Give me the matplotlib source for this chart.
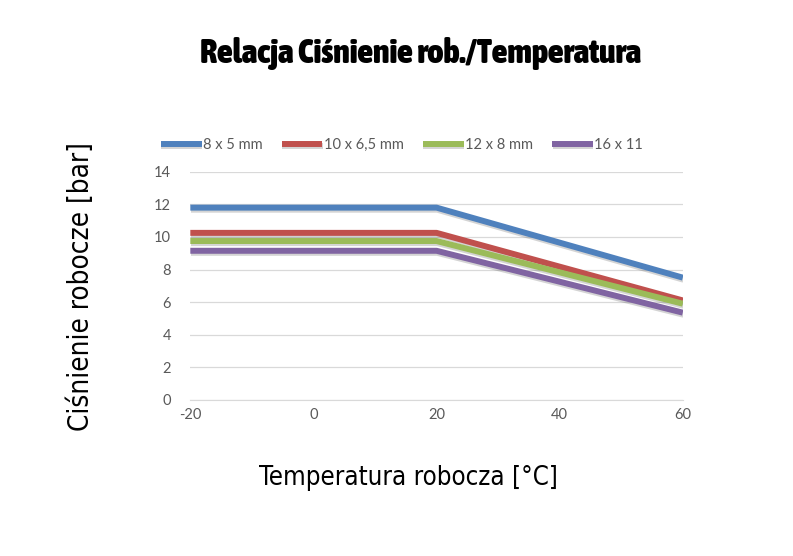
import matplotlib
matplotlib.use("Agg")
import matplotlib.pyplot as plt
import matplotlib.patheffects as pe
from matplotlib import font_manager

temps = [-20, 20, 60]
series_names = ["8 x 5 mm", "10 x 6,5 mm", "12 x 8 mm", "16 x 11"]
s_8x5 = [11.8, 11.8, 7.5]
s_10x65 = [10.25, 10.25, 6.1]
s_12x8 = [9.75, 9.75, 5.9]
s_16x11 = [9.15, 9.15, 5.35]
colors = ["#4F81BD", "#C0504D", "#9BBB59", "#8064A2"]
xticks = [-20, 0, 20, 40, 60]
yticks = [0, 2, 4, 6, 8, 10, 12, 14]

plt.rcParams["axes.unicode_minus"] = False

# find condensed font files
cands = []
for f in font_manager.fontManager.ttflist:
    nm = f.name.lower()
    fn = f.fname.lower()
    is_cond = ("condensed" in nm or "narrow" in nm or "condensed" in fn or "narrow" in fn
               or str(f.stretch) in ("condensed", "semi-condensed", "extra-condensed"))
    if not is_cond or "oblique" in fn or "italic" in fn:
        continue
    w = f.weight if isinstance(f.weight, int) else {"bold": 700, "black": 900, "heavy": 900,
         "light": 300, "normal": 400, "regular": 400, "medium": 500, "semibold": 600}.get(str(f.weight), 400)
    cands.append((w, f.fname))

def pick(target):
    if not cands:
        return None
    return min(cands, key=lambda c: (abs(c[0] - target), c[1]))[1]

cond_reg = pick(450)
cond_bold = pick(850)

def fp(path, size, bold=False):
    if path:
        return font_manager.FontProperties(fname=path, size=size)
    return font_manager.FontProperties(family="DejaVu Sans", size=size,
                                       weight="bold" if bold else "normal", stretch="condensed")

fig = plt.figure(figsize=(7.93, 5.56), dpi=100)
ax = fig.add_axes([0.24, 0.281, 0.621, 0.41])

for vals, name, c in zip([s_8x5, s_10x65, s_12x8, s_16x11], series_names, colors):
    ax.plot(temps, vals, color=c, lw=4.3, label=name, solid_capstyle="butt",
            path_effects=[pe.SimpleLineShadow(offset=(0.5, -1.5), alpha=0.25, shadow_color="#555555"), pe.Normal()])

ax.set_xlim(-20, 60)
ax.set_ylim(0, 14)
ax.set_xticks(xticks)
ax.set_yticks(yticks)
ax.grid(axis="y", color="#D9D9D9", lw=0.9)
ax.set_axisbelow(True)
for s in ["top", "right", "left"]:
    ax.spines[s].set_visible(False)
ax.spines["bottom"].set_color("#D9D9D9")
ax.tick_params(length=0, labelsize=10.5, labelcolor="#595959", pad=6)
for lab in ax.get_xticklabels() + ax.get_yticklabels():
    lab.set_family("Lato")
ax.tick_params(axis="y", pad=14)

leg = ax.legend(loc="lower left", bbox_to_anchor=(-0.072, 1.06), ncol=4, frameon=False,
                prop={"family": "Lato", "size": 10.5}, handlelength=2.8, handletextpad=0.1,
                columnspacing=1.3, borderaxespad=0)
for t in leg.get_texts():
    t.set_color("#595959")

fig.text(0.53, 0.903, "Relacja Ciśnienie rob./Temperatura", ha="center", va="center",
         fontproperties=fp(cond_bold, 24.5, bold=True))
ax.set_xlabel("Temperatura robocza [°C]", fontproperties=fp(cond_reg, 18.5), va="center", ha="center")
ax.set_ylabel("Ciśnienie robocze [bar]", fontproperties=fp(cond_reg, 20), va="center", ha="center")
ax.xaxis.set_label_coords(0.442, -0.342)
ax.yaxis.set_label_coords(-0.222, 0.496)

fig.savefig("out.png", dpi=100, facecolor="white")
